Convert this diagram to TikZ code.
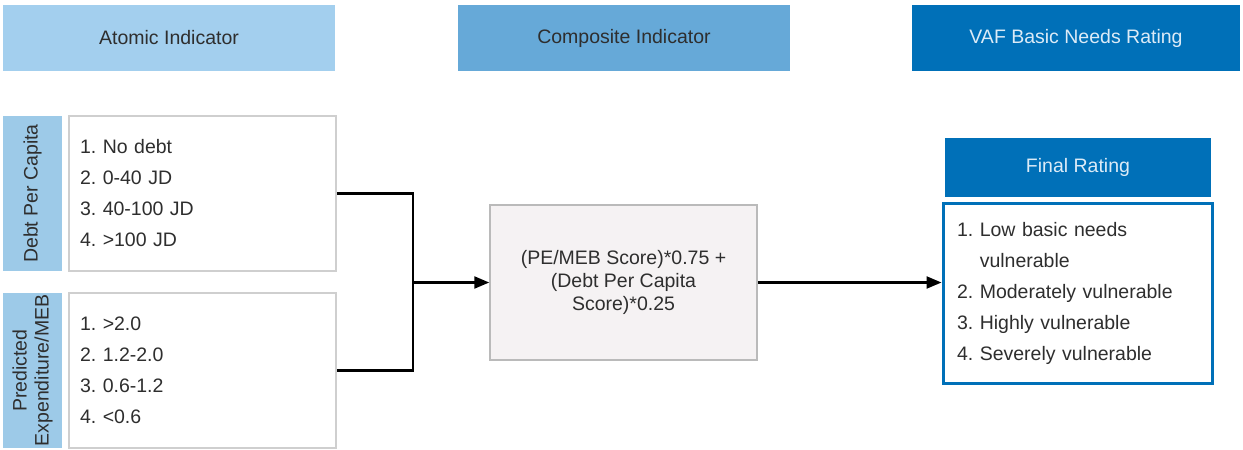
\documentclass[tikz,border=0pt]{standalone}
\usepackage{fontspec}
\setmainfont{Liberation Sans}
\usepackage{xcolor}
\usetikzlibrary{arrows.meta}
\definecolor{ink}{HTML}{2E2E2E}
\definecolor{lightblue}{HTML}{A3CFEE}
\definecolor{midblue}{HTML}{66A9D8}
\definecolor{darkblue}{HTML}{0070B8}
\definecolor{sidebar}{HTML}{9DCAE8}
\definecolor{boxline}{HTML}{CFCFCF}
\definecolor{corefill}{HTML}{F5F2F3}
\definecolor{paletext}{HTML}{DCEBF7}
\frenchspacing

\begin{document}
\begin{tikzpicture}[x=1pt, y=-1pt, >={Stealth[inset=0pt,length=15pt,width=12pt]}, line width=2.3pt,
    head node/.style={rectangle,minimum width=332pt,minimum height=66pt,inner sep=0pt,text=ink,font=\fontsize{19.5}{23}\selectfont},
    side node/.style={rectangle,fill=sidebar,minimum width=155pt,minimum height=59pt,inner sep=0pt,rotate=90,align=center,text=ink,font=\fontsize{19.5}{22}\selectfont},
    list node/.style={rectangle,draw=boxline,line width=1.5pt,fill=white,minimum width=267pt,minimum height=155pt,text width=245pt,inner xsep=11pt,align=left,text=ink,font=\fontsize{19.5}{31}\selectfont}]
    \useasboundingbox (0,0) rectangle (1243,450);

    % column headers
    \node[head node,fill=lightblue] (1) at (169,38) {Atomic Indicator};
    \node[head node,fill=midblue] (2) at (624,38) {Composite Indicator};
    \node[head node,fill=darkblue,text=paletext,minimum width=328pt] (3) at (1076,38) {VAF Basic Needs Rating};

    % atomic indicators
    \node[side node] (4) at (32.5,193.5) {Debt Per Capita};
    \node[list node] (5) at (202.5,193.5) {1. No debt\\2. 0-40 JD\\3. 40-100 JD\\4. >100 JD};
    \node[side node] (6) at (32.5,370.5) {Predicted\\Expenditure/MEB};
    \node[list node] (7) at (202.5,370.5) {1. >2.0\\2. 1.2-2.0\\3. 0.6-1.2\\4. <0.6};

    % composite
    \node[rectangle,draw=boxline!90!black,line width=1.5pt,fill=corefill,minimum width=267pt,minimum height=155pt,align=center,text=ink,font=\fontsize{19.5}{23}\selectfont] (8) at (623.5,282.5) {(PE/MEB Score)*0.75 +\\(Debt Per Capita\\Score)*0.25};

    % final rating
    \node[head node,fill=darkblue,text=paletext,minimum width=266pt,minimum height=59pt] (9) at (1078,167.5) {Final Rating};
    \node[list node,draw=darkblue,line width=3pt,minimum width=269pt,minimum height=180pt,text width=241pt,inner xsep=14pt] (10) at (1077.5,293) {1. Low basic needs\\\phantom{1. }vulnerable\\2. Moderately vulnerable\\3. Highly vulnerable\\4. Severely vulnerable};

    \coordinate (j) at (413,282.5);
    \draw (5.east) -| (j) |- (7.east);
    \path[->]
        (j) edge (8)
        (8.east) edge (8.east -| 10.west);
\end{tikzpicture}
\end{document}
